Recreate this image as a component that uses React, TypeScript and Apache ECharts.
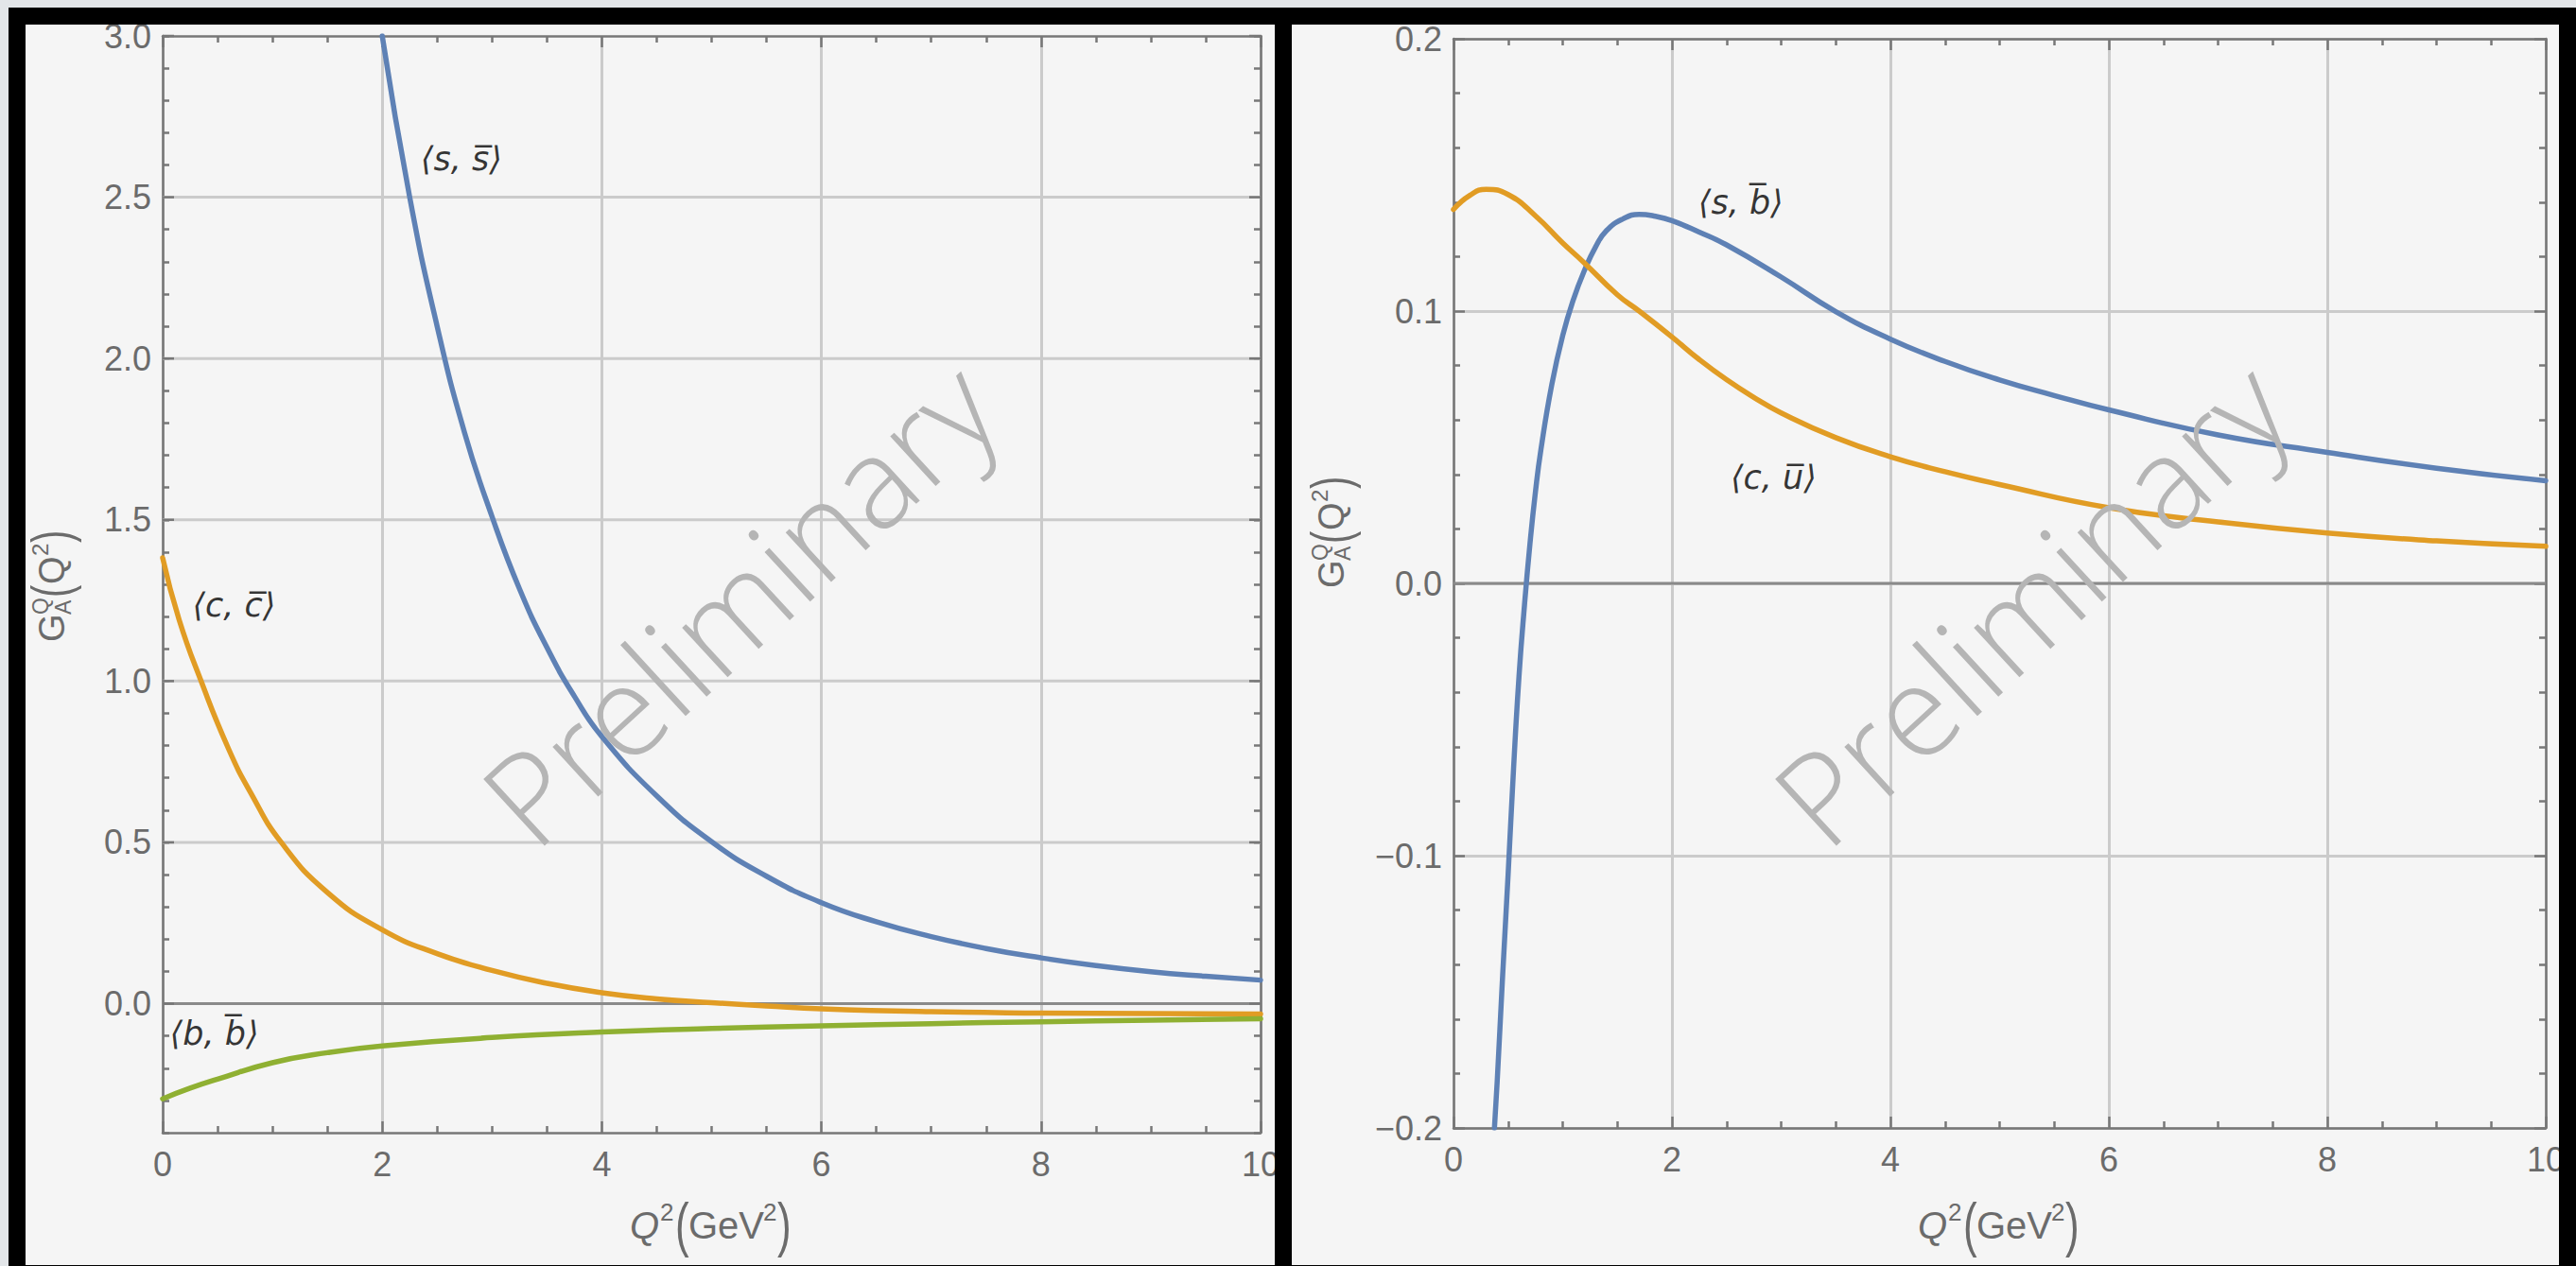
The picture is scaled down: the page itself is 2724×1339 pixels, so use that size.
import React, { useEffect, useRef } from "react";
import * as echarts from "echarts";

// ---------- data ----------
// Left panel
const ssX = [2.0, 2.25, 2.5, 2.75, 3.0, 3.25, 3.5, 3.75, 4.0, 4.5, 5.0, 5.5, 6.0, 6.5, 7.0, 7.5, 8.0, 8.5, 9.0, 9.5, 10];
const ssY = [3.0, 2.5, 2.1, 1.77, 1.51, 1.286, 1.104, 0.953, 0.828, 0.644, 0.502, 0.395, 0.313, 0.254, 0.208, 0.171, 0.142, 0.118, 0.099, 0.085, 0.073];
const ccX = [0, 0.15, 0.35, 0.6, 0.8, 1.08, 1.5, 2.0, 2.5, 3.0, 3.5, 4.0, 4.5, 5.0, 5.5, 6, 7, 8, 9, 10];
const ccY = [1.382, 1.19, 1.0, 0.79, 0.655, 0.5, 0.345, 0.229, 0.155, 0.103, 0.063, 0.034, 0.015, 0.003, -0.007, -0.016, -0.025, -0.029, -0.031, -0.032];
const bbX = [0, 0.25, 0.5, 1, 1.5, 2, 3, 4, 5, 6, 7, 8, 9, 10];
const bbY = [-0.295, -0.262, -0.234, -0.183, -0.152, -0.131, -0.105, -0.088, -0.077, -0.069, -0.062, -0.056, -0.051, -0.047];
// Right panel
const sbX = [0.375, 0.4, 0.45, 0.5, 0.55, 0.6, 0.65, 0.7, 0.75, 0.8, 0.9, 1.0, 1.1, 1.2, 1.3, 1.4, 1.55, 1.7, 1.85, 2.0, 2.25, 2.5, 3.0, 3.5, 4.0, 4.5, 5.0, 5.5, 6, 7, 8, 9, 10];
const sbY = [-0.2, -0.183, -0.144, -0.107, -0.068, -0.034, -0.008, 0.0145, 0.0335, 0.049, 0.073, 0.091, 0.1045, 0.115, 0.1235, 0.1295, 0.1338, 0.1355, 0.1348, 0.1332, 0.129, 0.1243, 0.1125, 0.0998, 0.0897, 0.0815, 0.0747, 0.069, 0.0637, 0.0545, 0.0481, 0.0423, 0.0377];
const cuX = [0, 0.15, 0.3, 0.5, 0.75, 1.0, 1.19, 1.5, 1.7, 2.0, 2.25, 2.5, 2.75, 3.0, 3.5, 4, 4.5, 5, 6, 7, 8, 9, 10];
const cuY = [0.1373, 0.1425, 0.1447, 0.1428, 0.135, 0.125, 0.118, 0.106, 0.1, 0.0905, 0.0822, 0.0748, 0.0683, 0.0626, 0.0535, 0.0465, 0.041, 0.0363, 0.0278, 0.0226, 0.0185, 0.0156, 0.0136];

// axes ranges / ticks
const xRange = [0, 10];
const xInterval = 2;
const leftYRange = [-0.4, 3.0];
const leftYMajor = [0, 0.5, 1.0, 1.5, 2.0, 2.5, 3.0];
const rightYRange = [-0.2, 0.2];
const rightZero = [0];

// curve annotations (data coordinates)
const leftNotes = [
  { text: "\u27E8s, s\u0305\u27E9", x: 2.72, y: 2.62 },
  { text: "\u27E8c, c\u0305\u27E9", x: 0.65, y: 1.235 },
  { text: "\u27E8b, b\u0305\u27E9", x: 0.47, y: -0.092 },
];
const rightNotes = [
  { text: "\u27E8s, b\u0305\u27E9", x: 2.63, y: 0.1398 },
  { text: "\u27E8c, u\u0305\u27E9", x: 2.93, y: 0.039 },
];

// ---------- styles ----------
const BLUE = "#5E81B5";
const ORANGE = "#E19C24";
const GREEN = "#8FB032";
const FRAME = "#777777";
const LABEL = "#6b6b6b";
const GRID = "#cbcbcb";
const ZERO = "#8a8a8a";
const FONT = "'Liberation Sans', Arial, sans-serif";

const pairs = (xs: number[], ys: number[]) => xs.map((x, i) => [x, ys[i]]);

const axisLine = { show: true, onZero: false, lineStyle: { color: FRAME, width: 2.5 } };
const tickStyle = { color: FRAME, width: 2.5 };

function xAxisDef(gridIndex: number, position: "bottom" | "top") {
  const bottom = position === "bottom";
  return {
    type: "value",
    gridIndex,
    position,
    min: xRange[0],
    max: xRange[1],
    interval: xInterval,
    axisLine,
    axisTick: { show: true, inside: true, length: 12, lineStyle: tickStyle },
    minorTick: { show: true, splitNumber: 4, length: 7, lineStyle: tickStyle },
    axisLabel: bottom
      ? { show: true, color: LABEL, fontSize: 36, fontFamily: FONT, margin: 15 }
      : { show: false },
    splitLine: bottom ? { show: true, lineStyle: { color: GRID, width: 3 } } : { show: false },
  };
}

function leftYAxisDef(position: "left" | "right") {
  const isLeft = position === "left";
  return {
    type: "value",
    gridIndex: 0,
    position,
    min: leftYRange[0],
    max: leftYRange[1],
    interval: 0.1,
    axisLine,
    axisTick: { show: true, inside: true, length: 7, lineStyle: tickStyle },
    axisLabel: isLeft
      ? {
          show: true,
          color: LABEL,
          fontSize: 36,
          fontFamily: FONT,
          margin: 12,
          formatter: (v: number) =>
            Math.abs(v * 2 - Math.round(v * 2)) < 1e-6 && v >= 0 ? v.toFixed(1) : "",
        }
      : { show: false },
    splitLine: { show: false },
  };
}

function rightYAxisDef(position: "left" | "right") {
  const isLeft = position === "left";
  return {
    type: "value",
    gridIndex: 1,
    position,
    min: rightYRange[0],
    max: rightYRange[1],
    interval: 0.1,
    axisLine,
    axisTick: { show: true, inside: true, length: 12, lineStyle: tickStyle },
    minorTick: { show: true, splitNumber: 5, length: 7, lineStyle: tickStyle },
    axisLabel: isLeft
      ? {
          show: true,
          color: LABEL,
          fontSize: 36,
          fontFamily: FONT,
          margin: 12,
          formatter: (v: number) => v.toFixed(1).replace("-", "\u2212"),
        }
      : { show: false },
    splitLine: isLeft ? { show: true, lineStyle: { color: GRID, width: 3 } } : { show: false },
  };
}

function curve(xi: number, yi: number, xs: number[], ys: number[], color: string) {
  return {
    type: "line",
    xAxisIndex: xi,
    yAxisIndex: yi,
    data: pairs(xs, ys),
    showSymbol: false,
    symbol: "none",
    smooth: 0.5,
    clip: true,
    silent: true,
    z: 3,
    lineStyle: { color, width: 5.5, cap: "round", join: "round" },
  };
}

// Horizontal rules (grid lines / zero line / long major ticks) drawn through the axis scales.
function ruleSeries(
  xi: number,
  yi: number,
  values: number[],
  yMin: number,
  yMax: number,
  withTicks: boolean
) {
  return {
    type: "custom",
    xAxisIndex: xi,
    yAxisIndex: yi,
    silent: true,
    z: 1,
    data: values.map((v) => [xRange[0], v]),
    renderItem: (_p: any, api: any) => {
      const y = api.value(1);
      const a = api.coord([xRange[0], y]);
      const b = api.coord([xRange[1], y]);
      const children: any[] = [];
      if (y > yMin && y < yMax) {
        children.push({
          type: "line",
          shape: { x1: a[0], y1: a[1], x2: b[0], y2: b[1] },
          style: { stroke: Math.abs(y) < 1e-9 ? ZERO : GRID, lineWidth: 3 },
        });
      }
      if (withTicks) {
        children.push({
          type: "line",
          shape: { x1: a[0], y1: a[1], x2: a[0] + 12, y2: a[1] },
          style: { stroke: FRAME, lineWidth: 2.5 },
        });
        children.push({
          type: "line",
          shape: { x1: b[0] - 12, y1: b[1], x2: b[0], y2: b[1] },
          style: { stroke: FRAME, lineWidth: 2.5 },
        });
      }
      return { type: "group", children };
    },
  };
}

function notes(xi: number, yi: number, list: { text: string; x: number; y: number }[]) {
  return {
    type: "scatter",
    xAxisIndex: xi,
    yAxisIndex: yi,
    symbolSize: 1,
    silent: true,
    z: 6,
    itemStyle: { color: "rgba(0,0,0,0)" },
    label: {
      show: true,
      position: "inside",
      formatter: (p: any) => p.name,
      color: "#000",
      fontSize: 35,
      fontStyle: "italic",
      fontFamily: "'DejaVu Sans', sans-serif",
    },
    data: list.map((n) => ({ name: n.text, value: [n.x, n.y] })),
  };
}

function txt(x: number, y: number, text: string, size: number, extra: any = {}) {
  return {
    type: "text",
    x,
    y,
    scaleX: extra.scaleX ?? 1,
    scaleY: extra.scaleY ?? 1,
    style: {
      text,
      fill: LABEL,
      fontSize: size,
      fontFamily: FONT,
      fontStyle: extra.italic ? "italic" : "normal",
      textAlign: "left",
      textVerticalAlign: "middle",
      align: "left",
      verticalAlign: "middle",
    },
  };
}

function yTitle(cx: number, cy: number) {
  return {
    type: "group",
    x: cx,
    y: cy,
    rotation: Math.PI / 2,
    z: 20,
    children: [
      txt(-62, 0, "G", 38),
      txt(-33, -12, "Q", 23),
      txt(-33, 12, "A", 23),
      txt(-15, -1, "(", 40, { scaleY: 1.45 }),
      txt(-1, 0, "Q", 38),
      txt(29, -13, "2", 24),
      txt(43, -1, ")", 40, { scaleY: 1.45 }),
    ],
  };
}

function xTitle(cx: number, cy: number) {
  return {
    type: "group",
    x: cx,
    y: cy,
    z: 20,
    children: [
      txt(-86, 0, "Q", 40, { italic: true }),
      txt(-54, -14, "2", 26),
      txt(-38, -1, "(", 44, { scaleY: 1.45 }),
      txt(-24, 0, "GeV", 40),
      txt(55, -14, "2", 26),
      txt(70, -1, ")", 44, { scaleY: 1.45 }),
    ],
  };
}

function watermark(cx: number, cy: number) {
  return {
    type: "text",
    x: cx,
    y: cy,
    rotation: (42.6 * Math.PI) / 180,
    z: 10,
    silent: true,
    style: {
      text: "Preliminary",
      fill: "#b5b5b5",
      fontSize: 134,
      fontWeight: 300,
      fontFamily: "'Open Sans', 'Lato', sans-serif",
      textAlign: "center",
      textVerticalAlign: "middle",
      align: "center",
      verticalAlign: "middle",
    },
  };
}

export default function App() {
  const ref = useRef<HTMLDivElement>(null);

  useEffect(() => {
    if (!ref.current) return;
    const chart = echarts.init(ref.current, undefined, { renderer: "svg" });

    const option: any = {
      animation: false,
      backgroundColor: "#f5f5f5",
      grid: [
        { left: 172, top: 38, width: 1161, height: 1160 },
        { left: 1537, top: 41, width: 1155, height: 1152 },
      ],
      xAxis: [xAxisDef(0, "bottom"), xAxisDef(0, "top"), xAxisDef(1, "bottom"), xAxisDef(1, "top")],
      yAxis: [leftYAxisDef("left"), leftYAxisDef("right"), rightYAxisDef("left"), rightYAxisDef("right")],
      series: [
        ruleSeries(0, 0, leftYMajor, leftYRange[0], leftYRange[1], true),
        ruleSeries(2, 2, rightZero, rightYRange[0], rightYRange[1], false),
        curve(0, 0, ssX, ssY, BLUE),
        curve(0, 0, ccX, ccY, ORANGE),
        curve(0, 0, bbX, bbY, GREEN),
        curve(2, 2, sbX, sbY, BLUE),
        curve(2, 2, cuX, cuY, ORANGE),
        notes(0, 0, leftNotes),
        notes(2, 2, rightNotes),
      ],
      graphic: [
        watermark(780, 636),
        watermark(2146, 636),
        yTitle(55, 617),
        yTitle(1408, 560),
        xTitle(752, 1296),
        xTitle(2114, 1296),
        {
          type: "rect",
          z: 100,
          silent: true,
          shape: { x: 18, y: 17, width: 1339, height: 1330 },
          style: { fill: "none", stroke: "#000", lineWidth: 18 },
        },
        {
          type: "rect",
          z: 100,
          silent: true,
          shape: { x: 1357, y: 17, width: 1358, height: 1330 },
          style: { fill: "none", stroke: "#000", lineWidth: 18 },
        },
        {
          type: "rect",
          z: 101,
          silent: true,
          shape: { x: 0, y: 0, width: 2724, height: 8 },
          style: { fill: "#e3e6e9" },
        },
        {
          type: "rect",
          z: 101,
          silent: true,
          shape: { x: 0, y: 0, width: 9, height: 1339 },
          style: { fill: "#e3e6e9" },
        },
      ],
    };

    chart.setOption(option);
    return () => chart.dispose();
  }, []);

  return (
    <div
      ref={ref}
      style={{ position: "absolute", left: 0, top: 0, width: 2724, height: 1339 }}
    />
  );
}
